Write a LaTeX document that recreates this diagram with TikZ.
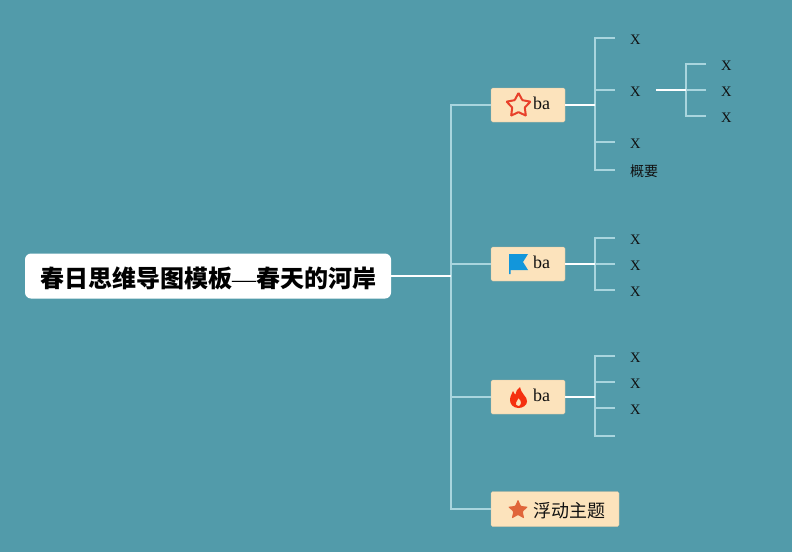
\documentclass[tikz,border=0pt]{standalone}
\usepackage{fontspec}
\setmainfont{Liberation Serif}
\newfontfamily\cjk{Noto Sans CJK SC}
\usetikzlibrary{shapes.geometric,calc,positioning}
\definecolor{riverbg}{HTML}{529BAA}
\definecolor{topicfill}{HTML}{FCE3BC}
\definecolor{paleline}{HTML}{A9D5DE}
\definecolor{flagblue}{HTML}{1296DB}
\definecolor{flamered}{HTML}{F5300F}
\definecolor{starred}{HTML}{E8402A}
\definecolor{staror}{HTML}{E0653A}
\definecolor{inktext}{HTML}{111111}
\tikzset{
    rootbox/.style={fill=white,rounded corners=6pt,minimum width=366pt,minimum height=45pt,inner sep=0pt},
    topic/.style={fill=topicfill,draw=topicfill!85!black,line width=0.3pt,rounded corners=1.5pt,minimum height=34pt,minimum width=74pt,inner sep=0pt},
    topictext/.style={anchor=west,inner sep=0pt,text=inktext,font=\fontsize{18}{20}\selectfont},
    leaf/.style={anchor=west,inner xsep=15pt,inner ysep=2pt,text=inktext,text height=13pt,text depth=0.4pt,font=\fontsize{14.5}{18}\selectfont},
    paleedge/.style={draw=paleline,line width=1.5pt},
    whiteedge/.style={draw=white,line width=1.5pt}
}

\begin{document}
\begin{tikzpicture}[x=1pt,y=-1pt]
        \useasboundingbox[fill=riverbg] (0,0) rectangle (792,552);

        \node[rootbox] (root) at (208,276) {};
        \node[inner sep=0pt] (roottext) at (208,278) {\fontsize{24}{28}\selectfont{\cjk\bfseries 春日思维导图模板}—{\cjk\bfseries 春天的河岸}};

        \node[topic] (ba1) at (528,105) {};
        \node[topic] (ba2) at (528,264) {};
        \node[topic] (ba3) at (528,397) {};
        \node[topic,minimum width=128pt,minimum height=35pt] (float) at (555,509) {};
        \node[topictext] (ba1text) at (533,103) {ba};
        \node[topictext] (ba2text) at (533,262) {ba};
        \node[topictext] (ba3text) at (533,395) {ba};
        \node[topictext] (floattext) at (533,510.5) {\cjk 浮动主题};

        \node[star,star points=5,star point ratio=1.9,draw=starred,line width=2pt,rounded corners=0.6pt,minimum size=25pt,inner sep=0pt] (ba1icon) at (518.5,105.5) {};
        \node[star,star points=5,star point ratio=2.1,fill=staror,rounded corners=0.8pt,minimum size=21pt,inner sep=0pt] (floaticon) at (518,510) {};
        \fill[flagblue] (509,254) -- (528,254) -- (523,262) -- (528,270) -- (510.5,270)
            -- (510.5,274) -- (509,274) -- cycle;
        \fill[flamered,even odd rule] (518.5,408) .. controls (513,408) and (510,404) .. (510,400)
            .. controls (510,396) and (512,394) .. (513,391)
            .. controls (514,393) and (514.5,394) .. (515.5,394.5)
            .. controls (516,391) and (518,388) .. (520,387)
            .. controls (520,390) and (522,392) .. (524,395)
            .. controls (526,397) and (527,399) .. (527,401.5)
            .. controls (527,405) and (523,408) .. (518.5,408)
            (518.5,406) .. controls (516,406) and (515.5,404) .. (516,402.5)
            .. controls (516.5,401) and (518,400) .. (518.5,398)
            .. controls (520,400) and (521.5,401.5) .. (521,403)
            .. controls (520.5,405) and (520,406) .. (518.5,406);

        \node[leaf] (x11) at (615,38) {X};
        \node[leaf] (x12) at (615,90) {X};
        \node[leaf] (x13) at (615,142) {X};
        \node[leaf,font=\fontsize{14}{16}\selectfont\cjk] (sum1) at (615,170) {概要};
        \node[leaf] (x121) at (706,64) {X};
        \node[leaf] (x122) at (706,90) {X};
        \node[leaf] (x123) at (706,116) {X};
        \node[leaf] (x21) at (615,238) {X};
        \node[leaf] (x22) at (615,264) {X};
        \node[leaf] (x23) at (615,290) {X};
        \node[leaf] (x31) at (615,356) {X};
        \node[leaf] (x32) at (615,382) {X};
        \node[leaf] (x33) at (615,408) {X};
        \coordinate (x34) at (615,436);

        \coordinate (trunk) at (451,276);
        \draw[paleedge] (ba1.west) -| (trunk) |- (float.west);
        \draw[paleedge] (trunk |- ba2.west) -- (ba2.west);
        \draw[paleedge] (trunk |- ba3.west) -- (ba3.west);
        \draw[whiteedge] (root.east) -- (trunk);

        \coordinate (fork1) at (595,105);
        \draw[paleedge] (x11.west) -| (fork1) |- (sum1.west);
        \draw[paleedge] (fork1 |- x12.west) -- (x12.west);
        \draw[paleedge] (fork1 |- x13.west) -- (x13.west);
        \draw[whiteedge] (ba1.east) -- (fork1);

        \coordinate (fork12) at (686,90);
        \draw[paleedge] (x121.west) -| (fork12) |- (x123.west);
        \draw[paleedge] (fork12) -- (x122.west);
        \draw[whiteedge] (x12.east) -- (fork12);

        \coordinate (fork2) at (595,264);
        \draw[paleedge] (x21.west) -| (fork2) |- (x23.west);
        \draw[paleedge] (fork2) -- (x22.west);
        \draw[whiteedge] (ba2.east) -- (fork2);

        \coordinate (fork3) at (595,397);
        \draw[paleedge] (x31.west) -| (fork3) |- (x34);
        \draw[paleedge] (fork3 |- x32.west) -- (x32.west);
        \draw[paleedge] (fork3 |- x33.west) -- (x33.west);
        \draw[whiteedge] (ba3.east) -- (fork3);
\end{tikzpicture}
\end{document}
